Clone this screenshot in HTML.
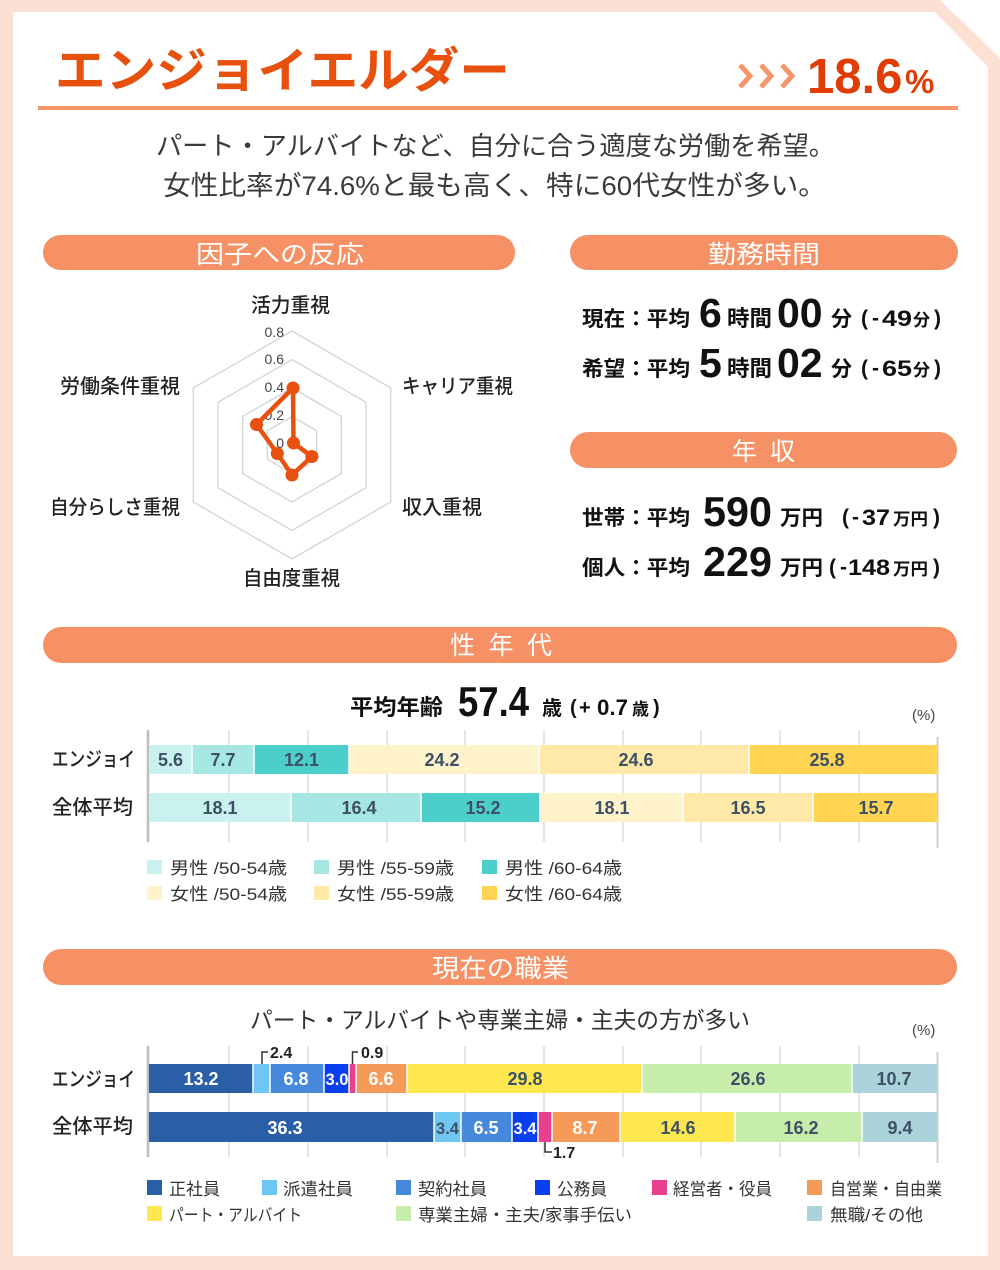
<!DOCTYPE html>
<html><head><meta charset="utf-8"><style>
html,body{margin:0;padding:0;background:#fff;}
svg{display:block;}
text{font-family:"Liberation Sans","Noto Sans CJK JP",sans-serif;}
</style></head><body>
<svg width="1000" height="1270" viewBox="0 0 1000 1270" xmlns="http://www.w3.org/2000/svg">
<rect width="1000" height="1270" fill="#fff"/>
<polygon points="0,0 940,0 1000,58 1000,1270 0,1270" fill="#fde0d4"/>
<polygon points="13,12 935,12 988,67 988,1256 13,1256" fill="#fff"/>

<!-- Header -->
<text x="55" y="87" font-size="48" font-weight="700" fill="#e8500e" textLength="455" lengthAdjust="spacingAndGlyphs">エンジョイエルダー</text>
<g fill="none" stroke="#f7946a" stroke-width="5">
<polyline points="740,65 750,76 740,87"/>
<polyline points="761,65 771,76 761,87"/>
<polyline points="782,65 792,76 782,87"/>
</g>
<text x="807" y="93" font-size="49" font-weight="700" fill="#e03c05">18.6</text>
<text x="905" y="93" font-size="33" font-weight="700" fill="#e03c05">%</text>
<rect x="38" y="106" width="920" height="4" fill="#f5956a"/>

<text x="156" y="155" font-size="26" fill="#3a3a3a" textLength="679" lengthAdjust="spacingAndGlyphs">パート・アルバイトなど、自分に合う適度な労働を希望。</text>
<text x="163" y="195" font-size="27" fill="#3a3a3a" textLength="663" lengthAdjust="spacingAndGlyphs">女性比率が74.6%と最も高く、特に60代女性が多い。</text>

<!-- Pills -->
<rect x="43" y="235" width="472" height="35" rx="17.5" fill="#f59165"/>
<text x="196" y="263" font-size="25" fill="#fff" textLength="168" lengthAdjust="spacingAndGlyphs">因子への反応</text>
<rect x="570" y="235" width="388" height="35" rx="17.5" fill="#f59165"/>
<text x="708" y="263" font-size="25" fill="#fff" textLength="112" lengthAdjust="spacingAndGlyphs">勤務時間</text>
<rect x="570" y="432" width="387" height="36" rx="18" fill="#f59165"/>
<text x="732" y="460" font-size="25" fill="#fff" textLength="63" lengthAdjust="spacing">年 収</text>
<rect x="43" y="627" width="914" height="36" rx="18" fill="#f59165"/>
<text x="450" y="654" font-size="25" fill="#fff" textLength="102" lengthAdjust="spacing">性 年 代</text>
<rect x="43" y="949" width="914" height="36" rx="18" fill="#f59165"/>
<text x="432" y="977" font-size="25" fill="#fff" textLength="137" lengthAdjust="spacingAndGlyphs">現在の職業</text>

<!-- Radar -->
<g fill="none" stroke="#d4d4d4" stroke-width="1.3">
<polygon points="292,331 390.7,388 390.7,502 292,559 193.3,502 193.3,388"/>
<polygon points="292,359.5 366,402.25 366,487.75 292,530.5 218,487.75 218,402.25"/>
<polygon points="292,388 341.4,416.5 341.4,473.5 292,502 242.6,473.5 242.6,416.5"/>
<polygon points="292,416.5 316.7,430.75 316.7,459.25 292,473.5 267.3,459.25 267.3,430.75"/>
</g>
<g font-size="14" fill="#444" text-anchor="end">
<text x="284" y="337">0.8</text>
<text x="284" y="364">0.6</text>
<text x="284" y="392">0.4</text>
<text x="284" y="420">0.2</text>
<text x="284" y="448">0</text>
</g>
<polygon points="293,388 293.5,443 311.9,456.5 292,475 277.3,453.5 256.5,424.5" fill="none" stroke="#e8500e" stroke-width="4.5" stroke-linejoin="round"/>
<g fill="#e8500e">
<circle cx="293" cy="388" r="6.5"/>
<circle cx="293.5" cy="443" r="6.5"/>
<circle cx="311.9" cy="456.5" r="6.5"/>
<circle cx="292" cy="475" r="6.5"/>
<circle cx="277.3" cy="453.5" r="6.5"/>
<circle cx="256.5" cy="424.5" r="6.5"/>
</g>
<g font-size="20" fill="#222" font-weight="500">
<text x="251" y="312" textLength="79" lengthAdjust="spacingAndGlyphs">活力重視</text>
<text x="402" y="393" textLength="111" lengthAdjust="spacingAndGlyphs">キャリア重視</text>
<text x="60" y="393" textLength="120" lengthAdjust="spacingAndGlyphs">労働条件重視</text>
<text x="50" y="514" textLength="130" lengthAdjust="spacingAndGlyphs">自分らしさ重視</text>
<text x="402" y="514" textLength="80" lengthAdjust="spacingAndGlyphs">収入重視</text>
<text x="243" y="585" textLength="97" lengthAdjust="spacingAndGlyphs">自由度重視</text>
</g>

<!-- Work hours -->
<g fill="#111" font-weight="700">
<text x="582" y="326" font-size="21" textLength="108" lengthAdjust="spacingAndGlyphs">現在：平均</text>
<text x="699" y="327" font-size="41">6</text>
<text x="727" y="326" font-size="22" textLength="45" lengthAdjust="spacingAndGlyphs">時間</text>
<text x="777" y="327" font-size="41">00</text>
<text x="831" y="326" font-size="21">分</text>
<text x="861" y="325" font-size="21">(</text>
<text x="872" y="325" font-size="21">-</text>
<text x="882" y="326" font-size="22" textLength="30" lengthAdjust="spacingAndGlyphs">49</text>
<text x="913" y="326" font-size="17">分</text>
<text x="934" y="325" font-size="21">)</text>

<text x="582" y="376" font-size="21" textLength="108" lengthAdjust="spacingAndGlyphs">希望：平均</text>
<text x="699" y="377" font-size="41">5</text>
<text x="727" y="376" font-size="22" textLength="45" lengthAdjust="spacingAndGlyphs">時間</text>
<text x="777" y="377" font-size="41">02</text>
<text x="831" y="376" font-size="21">分</text>
<text x="861" y="375" font-size="21">(</text>
<text x="872" y="375" font-size="21">-</text>
<text x="882" y="376" font-size="22" textLength="30" lengthAdjust="spacingAndGlyphs">65</text>
<text x="913" y="376" font-size="17">分</text>
<text x="934" y="375" font-size="21">)</text>

<!-- Income -->
<text x="582" y="525" font-size="21" textLength="108" lengthAdjust="spacingAndGlyphs">世帯：平均</text>
<text x="703" y="526" font-size="42" textLength="69" lengthAdjust="spacingAndGlyphs">590</text>
<text x="780" y="525" font-size="21" textLength="43" lengthAdjust="spacingAndGlyphs">万円</text>
<text x="842" y="524" font-size="21">(</text>
<text x="852" y="524" font-size="21">-</text>
<text x="862" y="525" font-size="22" textLength="28" lengthAdjust="spacingAndGlyphs">37</text>
<text x="893" y="525" font-size="17" textLength="35" lengthAdjust="spacingAndGlyphs">万円</text>
<text x="933" y="524" font-size="21">)</text>

<text x="582" y="575" font-size="21" textLength="108" lengthAdjust="spacingAndGlyphs">個人：平均</text>
<text x="703" y="576" font-size="42" textLength="69" lengthAdjust="spacingAndGlyphs">229</text>
<text x="780" y="575" font-size="21" textLength="43" lengthAdjust="spacingAndGlyphs">万円</text>
<text x="829" y="574" font-size="21">(</text>
<text x="840" y="574" font-size="21">-</text>
<text x="848" y="575" font-size="22" textLength="42" lengthAdjust="spacingAndGlyphs">148</text>
<text x="893" y="575" font-size="17" textLength="35" lengthAdjust="spacingAndGlyphs">万円</text>
<text x="933" y="574" font-size="21">)</text>

<!-- Age header -->
<text x="350" y="715" font-size="22" textLength="93" lengthAdjust="spacingAndGlyphs">平均年齢</text>
<text x="458" y="716" font-size="42" textLength="71" lengthAdjust="spacingAndGlyphs">57.4</text>
<text x="542" y="715" font-size="20">歳</text>
<text x="570" y="714" font-size="20">(</text>
<text x="579" y="714" font-size="20">+</text>
<text x="597" y="715" font-size="22" textLength="31" lengthAdjust="spacingAndGlyphs">0.7</text>
<text x="632" y="715" font-size="17">歳</text>
<text x="653" y="714" font-size="20">)</text>
</g>
<text x="912" y="720" font-size="15" fill="#444">(%)</text>

<!-- Age chart grid -->
<g stroke="#dcdcdc" stroke-width="1.5">
<line x1="229" y1="730" x2="229" y2="842"/><line x1="308" y1="730" x2="308" y2="842"/>
<line x1="387" y1="730" x2="387" y2="842"/><line x1="465" y1="730" x2="465" y2="842"/>
<line x1="544" y1="730" x2="544" y2="842"/><line x1="623" y1="730" x2="623" y2="842"/>
<line x1="701" y1="730" x2="701" y2="842"/><line x1="780" y1="730" x2="780" y2="842"/>
<line x1="859" y1="730" x2="859" y2="842"/>
</g>
<line x1="148" y1="730" x2="148" y2="842" stroke="#bdbdbd" stroke-width="2.5"/>
<line x1="937.5" y1="737" x2="937.5" y2="848" stroke="#cfcfcf" stroke-width="2"/>

<g font-size="20" fill="#222" font-weight="500">
<text x="52" y="766" textLength="83" lengthAdjust="spacingAndGlyphs">エンジョイ</text>
<text x="52" y="814" textLength="81" lengthAdjust="spacingAndGlyphs">全体平均</text>
<text x="52" y="1086" textLength="83" lengthAdjust="spacingAndGlyphs">エンジョイ</text>
<text x="52" y="1133" textLength="81" lengthAdjust="spacingAndGlyphs">全体平均</text>
</g>

<!-- Age bars -->
<g>
<rect x="149" y="745" width="43" height="29" fill="#c9f1ee"/>
<rect x="192" y="745" width="62" height="29" fill="#a6e6e3"/>
<rect x="254" y="745" width="95" height="29" fill="#4ccfcb"/>
<rect x="349" y="745" width="190" height="29" fill="#fff3cc"/>
<rect x="539" y="745" width="210" height="29" fill="#ffe9a8"/>
<rect x="749" y="745" width="188" height="29" fill="#ffd452"/>
<rect x="149" y="793" width="142" height="29" fill="#c9f1ee"/>
<rect x="291" y="793" width="130" height="29" fill="#a6e6e3"/>
<rect x="421" y="793" width="119" height="29" fill="#4ccfcb"/>
<rect x="540" y="793" width="143" height="29" fill="#fff3cc"/>
<rect x="683" y="793" width="130" height="29" fill="#ffe9a8"/>
<rect x="813" y="793" width="124" height="29" fill="#ffd452"/>
</g>
<g stroke="#fff" stroke-width="1.5">
<line x1="192" y1="745" x2="192" y2="774"/><line x1="254" y1="745" x2="254" y2="774"/>
<line x1="349" y1="745" x2="349" y2="774"/><line x1="539" y1="745" x2="539" y2="774"/>
<line x1="749" y1="745" x2="749" y2="774"/>
<line x1="291" y1="793" x2="291" y2="822"/><line x1="421" y1="793" x2="421" y2="822"/>
<line x1="540" y1="793" x2="540" y2="822"/><line x1="683" y1="793" x2="683" y2="822"/>
<line x1="813" y1="793" x2="813" y2="822"/>
</g>
<g font-size="18" font-weight="700" fill="#3d5066" text-anchor="middle">
<text x="170.5" y="766">5.6</text>
<text x="223" y="766">7.7</text>
<text x="301.5" y="766">12.1</text>
<text x="442" y="766">24.2</text>
<text x="636" y="766">24.6</text>
<text x="827" y="766">25.8</text>
<text x="220" y="814">18.1</text>
<text x="359" y="814">16.4</text>
<text x="483" y="814">15.2</text>
<text x="612" y="814">18.1</text>
<text x="748" y="814">16.5</text>
<text x="876" y="814">15.7</text>
</g>

<!-- Age legend -->
<rect x="147" y="860" width="15" height="14" fill="#c9f1ee"/>
<rect x="314" y="860" width="15" height="14" fill="#a6e6e3"/>
<rect x="482" y="860" width="15" height="14" fill="#4ccfcb"/>
<rect x="147" y="886" width="15" height="14" fill="#fff3cc"/>
<rect x="314" y="886" width="15" height="14" fill="#ffe9a8"/>
<rect x="482" y="886" width="15" height="14" fill="#ffd452"/>
<g font-size="17" fill="#333">
<text x="170" y="874" textLength="117" lengthAdjust="spacingAndGlyphs">男性 /50-54歳</text>
<text x="337" y="874" textLength="117" lengthAdjust="spacingAndGlyphs">男性 /55-59歳</text>
<text x="505" y="874" textLength="117" lengthAdjust="spacingAndGlyphs">男性 /60-64歳</text>
<text x="170" y="900" textLength="117" lengthAdjust="spacingAndGlyphs">女性 /50-54歳</text>
<text x="337" y="900" textLength="117" lengthAdjust="spacingAndGlyphs">女性 /55-59歳</text>
<text x="505" y="900" textLength="117" lengthAdjust="spacingAndGlyphs">女性 /60-64歳</text>
</g>

<!-- Job section -->
<text x="250" y="1028" font-size="23" fill="#333" textLength="500" lengthAdjust="spacingAndGlyphs">パート・アルバイトや専業主婦・主夫の方が多い</text>
<text x="912" y="1035" font-size="15" fill="#444">(%)</text>

<g stroke="#dcdcdc" stroke-width="1.5">
<line x1="229" y1="1046" x2="229" y2="1157"/><line x1="308" y1="1046" x2="308" y2="1157"/>
<line x1="387" y1="1046" x2="387" y2="1157"/><line x1="465" y1="1046" x2="465" y2="1157"/>
<line x1="544" y1="1046" x2="544" y2="1157"/><line x1="623" y1="1046" x2="623" y2="1157"/>
<line x1="701" y1="1046" x2="701" y2="1157"/><line x1="780" y1="1046" x2="780" y2="1157"/>
<line x1="859" y1="1046" x2="859" y2="1157"/>
</g>
<line x1="148" y1="1046" x2="148" y2="1157" stroke="#bdbdbd" stroke-width="2.5"/>
<line x1="937.5" y1="1052" x2="937.5" y2="1163" stroke="#cfcfcf" stroke-width="2"/>

<g>
<rect x="149" y="1064" width="104" height="29" fill="#2a5fa8"/>
<rect x="253" y="1064" width="17" height="29" fill="#6ec6f2"/>
<rect x="270" y="1064" width="54" height="29" fill="#4689dc"/>
<rect x="324" y="1064" width="25" height="29" fill="#0a3ff0"/>
<rect x="349" y="1064" width="7" height="29" fill="#e8408e"/>
<rect x="356" y="1064" width="51" height="29" fill="#f59a58"/>
<rect x="407" y="1064" width="235" height="29" fill="#ffe84f"/>
<rect x="642" y="1064" width="210" height="29" fill="#c7edaa"/>
<rect x="852" y="1064" width="85" height="29" fill="#aad3da"/>

<rect x="149" y="1112" width="285" height="30" fill="#2a5fa8"/>
<rect x="434" y="1112" width="27" height="30" fill="#6ec6f2"/>
<rect x="461" y="1112" width="51" height="30" fill="#4689dc"/>
<rect x="512" y="1112" width="26" height="30" fill="#0a3ff0"/>
<rect x="538" y="1112" width="14" height="30" fill="#e8408e"/>
<rect x="552" y="1112" width="68" height="30" fill="#f59a58"/>
<rect x="620" y="1112" width="115" height="30" fill="#ffe84f"/>
<rect x="735" y="1112" width="127" height="30" fill="#c7edaa"/>
<rect x="862" y="1112" width="75" height="30" fill="#aad3da"/>
</g>
<g stroke="#fff" stroke-width="1.5">
<line x1="253" y1="1064" x2="253" y2="1093"/><line x1="270" y1="1064" x2="270" y2="1093"/>
<line x1="324" y1="1064" x2="324" y2="1093"/><line x1="349" y1="1064" x2="349" y2="1093"/>
<line x1="356" y1="1064" x2="356" y2="1093"/><line x1="407" y1="1064" x2="407" y2="1093"/>
<line x1="642" y1="1064" x2="642" y2="1093"/><line x1="852" y1="1064" x2="852" y2="1093"/>
<line x1="434" y1="1112" x2="434" y2="1142"/><line x1="461" y1="1112" x2="461" y2="1142"/>
<line x1="512" y1="1112" x2="512" y2="1142"/><line x1="538" y1="1112" x2="538" y2="1142"/>
<line x1="552" y1="1112" x2="552" y2="1142"/><line x1="620" y1="1112" x2="620" y2="1142"/>
<line x1="735" y1="1112" x2="735" y2="1142"/><line x1="862" y1="1112" x2="862" y2="1142"/>
</g>
<g font-size="18" font-weight="700" text-anchor="middle">
<text x="201" y="1085" fill="#fff">13.2</text>
<text x="296" y="1085" fill="#fff">6.8</text>
<text x="337" y="1085" fill="#fff" font-size="16.5">3.0</text>
<text x="381" y="1085" fill="#fff">6.6</text>
<text x="525" y="1085" fill="#3d5066">29.8</text>
<text x="748" y="1085" fill="#3d5066">26.6</text>
<text x="894" y="1085" fill="#3d5066">10.7</text>
<text x="285" y="1134" fill="#fff">36.3</text>
<text x="447.5" y="1134" fill="#3d5066" font-size="16.5">3.4</text>
<text x="486" y="1134" fill="#fff">6.5</text>
<text x="525" y="1134" fill="#fff" font-size="16.5">3.4</text>
<text x="585" y="1134" fill="#fff">8.7</text>
<text x="678" y="1134" fill="#3d5066">14.6</text>
<text x="801" y="1134" fill="#3d5066">16.2</text>
<text x="900" y="1134" fill="#3d5066">9.4</text>
</g>
<g fill="none" stroke="#333" stroke-width="1.5">
<polyline points="262,1064 262,1052 268,1052"/>
<polyline points="352.5,1064 352.5,1052 358,1052"/>
<polyline points="545,1142 545,1152 552,1152"/>
</g>
<g font-size="16" font-weight="700" fill="#222">
<text x="270" y="1058">2.4</text>
<text x="361" y="1058">0.9</text>
<text x="553" y="1158">1.7</text>
</g>

<!-- Job legend -->
<rect x="147" y="1180" width="15" height="15" fill="#2a5fa8"/>
<rect x="262" y="1180" width="15" height="15" fill="#6ec6f2"/>
<rect x="396" y="1180" width="15" height="15" fill="#4689dc"/>
<rect x="535" y="1180" width="15" height="15" fill="#0a3ff0"/>
<rect x="652" y="1180" width="15" height="15" fill="#e8408e"/>
<rect x="807" y="1180" width="15" height="15" fill="#f59a58"/>
<rect x="147" y="1206" width="15" height="15" fill="#ffe84f"/>
<rect x="396" y="1206" width="15" height="15" fill="#c7edaa"/>
<rect x="807" y="1206" width="15" height="15" fill="#aad3da"/>
<g font-size="17" fill="#333">
<text x="169" y="1195" textLength="51" lengthAdjust="spacingAndGlyphs">正社員</text>
<text x="283" y="1195" textLength="70" lengthAdjust="spacingAndGlyphs">派遣社員</text>
<text x="418" y="1195" textLength="69" lengthAdjust="spacingAndGlyphs">契約社員</text>
<text x="557" y="1195" textLength="50" lengthAdjust="spacingAndGlyphs">公務員</text>
<text x="673" y="1195" textLength="99" lengthAdjust="spacingAndGlyphs">経営者・役員</text>
<text x="830" y="1195" textLength="112" lengthAdjust="spacingAndGlyphs">自営業・自由業</text>
<text x="169" y="1221" textLength="133" lengthAdjust="spacingAndGlyphs">パート・アルバイト</text>
<text x="418" y="1221" textLength="214" lengthAdjust="spacingAndGlyphs">専業主婦・主夫/家事手伝い</text>
<text x="830" y="1221" textLength="93" lengthAdjust="spacingAndGlyphs">無職/その他</text>
</g>
</svg>
</body></html>
